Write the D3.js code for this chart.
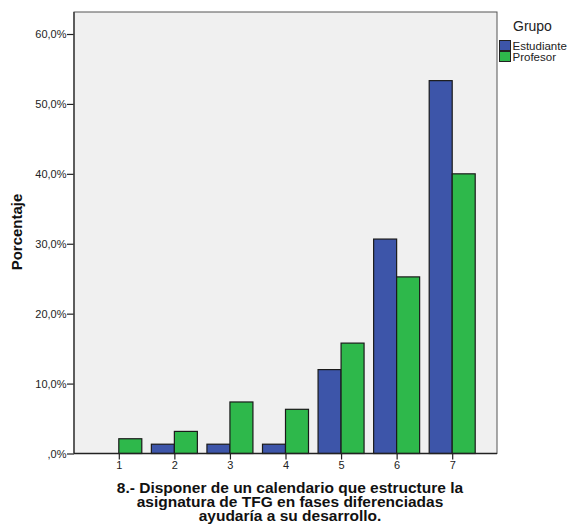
<!DOCTYPE html>
<html><head><meta charset="utf-8">
<script src="https://cdn.jsdelivr.net/npm/d3@7"></script>
<style>body{margin:0;background:#fff;} text{font-family:"Liberation Sans",Arial,sans-serif;}</style>
</head><body><svg id="c" width="567" height="529"></svg>
<script>
const categories = ["1","2","3","4","5","6","7"];
const estudiante = [0, 1.33, 1.33, 1.33, 12.0, 30.67, 53.33];
const profesor = [2.11, 3.16, 7.37, 6.32, 15.79, 25.26, 40.0];
const seriesNames = ["Estudiante","Profesor"];
const seriesColors = ["#3d55a9","#2eb84b"];
const yTicks = [0,10,20,30,40,50,60];
const yTickLabels = [",0%","10,0%","20,0%","30,0%","40,0%","50,0%","60,0%"];
const titleLines = ["8.- Disponer de un calendario que estructure la","asignatura de TFG en fases diferenciadas","ayudaría a su desarrollo."];

const svg = d3.select("#c");
const L=74, R=497, T=12, B=453.5;
const y = d3.scaleLinear().domain([0,60]).range([B,34]);
const x = d3.scalePoint().domain(categories).range([L+44.8,R-44.8]);
const bw = 23;

svg.append("rect").attr("x",L).attr("y",T).attr("width",R-L).attr("height",B-T)
  .attr("fill","#f0f0f0").attr("stroke","#555").attr("stroke-width",1);

const data = [estudiante, profesor];
data.forEach((vals,si)=>{
  svg.append("g").selectAll("rect").data(vals).join("rect")
    .attr("x",(d,i)=>x(categories[i]) + (si===0 ? -bw : 0))
    .attr("y",d=>y(d))
    .attr("width",bw)
    .attr("height",d=>B-y(d))
    .attr("fill",seriesColors[si])
    .attr("stroke","#1a1a1a").attr("stroke-width",1.2);
});

// axes
const ya = d3.axisLeft(y).tickValues(yTicks).tickFormat((d,i)=>yTickLabels[i]).tickSize(7).tickSizeOuter(0);
const yg = svg.append("g").attr("transform",`translate(${L},0)`).call(ya);
yg.select(".domain").remove();
yg.selectAll("line").attr("stroke","#222").attr("stroke-width",1.2);
yg.selectAll("text").attr("font-size",11).attr("fill","#222").attr("x",-7.5);
svg.append("line").attr("x1",L).attr("x2",L).attr("y1",T).attr("y2",B).attr("stroke","#444").attr("stroke-width",1.5);

const xa = d3.axisBottom(x).tickSize(6).tickSizeOuter(0);
const xg = svg.append("g").attr("transform",`translate(0,${B})`).call(xa);
xg.select(".domain").remove();
xg.selectAll("line").attr("stroke","#222").attr("stroke-width",1.2);
xg.selectAll("text").attr("font-size",11).attr("fill","#222").attr("y",8);
svg.append("line").attr("x1",L).attr("x2",R).attr("y1",B).attr("y2",B).attr("stroke","#222").attr("stroke-width",1.5);

// y label
svg.append("text").attr("transform","translate(22,232) rotate(-90)")
  .attr("text-anchor","middle").attr("font-size",15).attr("font-weight","bold").attr("fill","#111").text("Porcentaje");

// title
svg.append("g").selectAll("text").data(titleLines).join("text")
  .attr("x",290).attr("y",(d,i)=>493+i*14).attr("text-anchor","middle")
  .attr("font-size",15.5).attr("font-weight","bold").attr("fill","#111").text(d=>d);

// legend
svg.append("text").attr("x",513).attr("y",31).attr("font-size",14).attr("fill","#222").text("Grupo");
const lg = svg.append("g").selectAll("g").data(seriesNames).join("g")
  .attr("transform",(d,i)=>`translate(499.5,${40.5+i*11})`);
lg.append("rect").attr("width",11).attr("height",10).attr("fill",(d,i)=>seriesColors[i]).attr("stroke","#222").attr("stroke-width",1);
lg.append("text").attr("x",13).attr("y",9).attr("font-size",11.5).attr("fill","#222").text(d=>d);
</script></body></html>
